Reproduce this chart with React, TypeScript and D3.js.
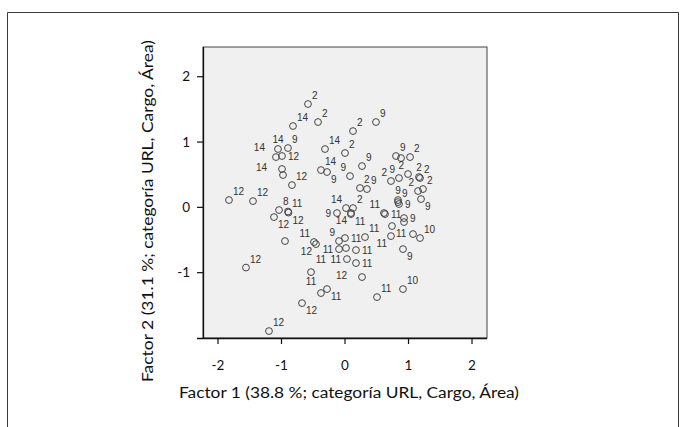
import React from "react";
import * as d3 from "d3";

// Factor scores (Factor 1, Factor 2) and their case labels
const factor1 = [
  -0.583, -0.819, -0.425, 0.488, 0.126, 0.0, -0.315, -1.055, -0.898, -1.087,
  -0.992, -0.992, -0.976, -0.835, -0.378, -0.283, 0.079, 0.268, 0.803, 0.882,
  1.024, 0.724, 0.85, 0.992, 1.165, 1.181, 1.15, 1.228, 0.236, 0.346,
  0.835, 0.835, 0.85, 1.197, 0.016, 0.126, 0.094, 0.094, -0.126, 0.614,
  0.63, 0.929, 0.929, 0.74, 0.724, 1.071, 1.181, 0.0, 0.315, -0.094,
  -0.094, 0.016, 0.173, 0.031, 0.173, 0.268, 0.913, 0.913, 0.504, -1.827,
  -1.449, -1.039, -0.898, -0.89, -1.118, -0.945, -0.488, -0.457, -1.559, -0.535,
  -0.378, -0.283, -0.677, -1.197,
];
const factor2 = [
  1.582, 1.245, 1.306, 1.306, 1.168, 0.832, 0.893, 0.893, 0.908, 0.77,
  0.786, 0.587, 0.495, 0.341, 0.571, 0.541, 0.479, 0.632, 0.786, 0.755,
  0.77, 0.403, 0.449, 0.51, 0.464, 0.449, 0.25, 0.28, 0.296, 0.28,
  0.112, 0.081, 0.051, 0.127, -0.011, -0.011, -0.087, -0.103, -0.087, -0.087,
  -0.103, -0.164, -0.225, -0.286, -0.44, -0.409, -0.47, -0.47, -0.455, -0.516,
  -0.639, -0.623, -0.654, -0.792, -0.853, -1.067, -0.639, -1.251, -1.374, 0.112,
  0.096, -0.041, -0.064, -0.08, -0.149, -0.516, -0.531, -0.562, -0.922, -0.991,
  -1.312, -1.251, -1.466, -1.894,
];
const caseLabels = [
  "2", "14", "2", "9", "2", "2", "14", "14", "9", "14",
  "12", "14", "", "12", "14", "9", "9", "9", "9", "",
  "2", "2", "9", "2", "2", "2", "2", "2", "2", "9",
  "9", "9", "9", "9", "14", "2", "14", "11", "9", "11",
  "11", "9", "", "11", "11", "", "10", "11", "11", "9",
  "11", "11", "11", "11", "11", "12", "9", "10", "11", "12",
  "12", "8", "11", "12", "12", "", "11", "12", "12", "11",
  "", "11", "12", "12",
];
// label placement side relative to its point
const labelSide = [
  "ne", "ne", "ne", "ne", "ne", "ne", "ne", "n", "ne", "NW",
  "e", "W", "ne", "ne", "ne", "se", "nw", "ne", "ne", "ne",
  "ne", "nw", "nw", "nw", "n", "ne", "nw", "ne", "ne", "ne",
  "n", "ne", "e", "se", "nw", "ne", "sw", "se", "w", "nw",
  "e", "e", "ne", "se", "sw", "ne", "ne", "e", "ne", "nw",
  "w", "SW", "e", "w", "e", "W", "se", "ne", "ne", "ne",
  "ne", "ne", "ne", "se", "se", "ne", "nw", "sw", "ne", "s",
  "ne", "se", "se", "ne",
];

const xTicks = [-2, -1, 0, 1, 2];
const yTicks = [-1, 0, 1, 2];
const xTitle = "Factor 1 (38.8 %; categoría URL, Cargo, Área)";
const yTitle = "Factor 2 (31.1 %; categoría URL, Cargo, Área)";

const W = 684;
const H = 427;
const plot = { left: 203, right: 487, top: 47, bottom: 338 };

const offsets: Record<string, { dx: number; dy: number; anchor: string }> = {
  ne: { dx: 4, dy: -5, anchor: "start" },
  nw: { dx: -4, dy: -5, anchor: "end" },
  NW: { dx: -11, dy: -6, anchor: "end" },
  se: { dx: 4, dy: 11, anchor: "start" },
  sw: { dx: -4, dy: 11, anchor: "end" },
  SW: { dx: -20, dy: 15, anchor: "end" },
  n: { dx: 0, dy: -6, anchor: "middle" },
  s: { dx: 0, dy: 13, anchor: "middle" },
  e: { dx: 6, dy: 4, anchor: "start" },
  w: { dx: -6, dy: 4, anchor: "end" },
  W: { dx: -15, dy: 2, anchor: "end" },
};

export default function App() {
  const x = d3.scaleLinear().domain([-2.236, 2.236]).range([plot.left, plot.right]);
  const y = d3.scaleLinear().domain([-2.0, 2.455]).range([plot.bottom, plot.top]);
  const titleFont = "Lato, 'Open Sans', sans-serif";

  return (
    <svg
      width={W}
      height={H}
      style={{ position: "absolute", left: 0, top: 0, background: "#fff" }}
    >
      {/* outer frame */}
      <path
        d={`M7.5,${H + 2} V12.5 H678.5 V${H + 2}`}
        fill="none"
        stroke="#3a3a3a"
        strokeWidth={1}
      />
      {/* plot area */}
      <rect
        x={plot.left}
        y={plot.top}
        width={plot.right - plot.left}
        height={plot.bottom - plot.top}
        fill="#f0f0f0"
        stroke="#444"
        strokeWidth={1}
      />
      {/* axes */}
      <line x1={plot.left - 6} x2={plot.right} y1={plot.bottom + 0.5} y2={plot.bottom + 0.5} stroke="#111" strokeWidth={1.3} />
      <line x1={plot.left + 0.5} x2={plot.left + 0.5} y1={plot.top} y2={plot.bottom} stroke="#111" strokeWidth={1.3} />
      {xTicks.map((t) => (
        <g key={"xt" + t}>
          <line x1={x(t)} x2={x(t)} y1={plot.bottom} y2={plot.bottom + 6} stroke="#111" strokeWidth={1.2} />
          <text
            x={x(t)}
            y={370}
            textAnchor="middle"
            fontFamily={titleFont}
            fontSize={13.5}
            fill="#111"
          >
            {t < 0 ? "-" + Math.abs(t) : String(t)}
          </text>
        </g>
      ))}
      {yTicks.map((t) => (
        <g key={"yt" + t}>
          <line x1={plot.left - 6} x2={plot.left} y1={y(t)} y2={y(t)} stroke="#111" strokeWidth={1.2} />
          <text
            x={190}
            y={y(t) + 4.5}
            textAnchor="end"
            fontFamily={titleFont}
            fontSize={13.5}
            fill="#111"
          >
            {t < 0 ? "-" + Math.abs(t) : String(t)}
          </text>
        </g>
      ))}
      {/* titles */}
      <text
        x={349}
        y={398}
        textAnchor="middle"
        fontFamily={titleFont}
        fontSize={14.5}
        fill="#111"
        textLength={340}
        lengthAdjust="spacingAndGlyphs"
      >
        {xTitle}
      </text>
      <text
        transform={`translate(153,211) rotate(-90)`}
        textAnchor="middle"
        fontFamily={titleFont}
        fontSize={14.5}
        fill="#111"
        textLength={342}
        lengthAdjust="spacingAndGlyphs"
      >
        {yTitle}
      </text>
      {/* points */}
      {factor1.map((v, i) => (
        <circle
          key={"p" + i}
          cx={x(v)}
          cy={y(factor2[i])}
          r={3.4}
          fill="none"
          stroke="#444"
          strokeWidth={1}
        />
      ))}
      {factor1.map((v, i) => {
        const lab = caseLabels[i];
        if (!lab) return null;
        const o = offsets[labelSide[i]] || offsets.ne;
        return (
          <text
            key={"l" + i}
            x={x(v) + o.dx}
            y={y(factor2[i]) + o.dy}
            textAnchor={o.anchor}
            fontFamily="'Liberation Sans', Arial, sans-serif"
            fontSize={10}
            fill="#333"
          >
            {lab}
          </text>
        );
      })}
    </svg>
  );
}
